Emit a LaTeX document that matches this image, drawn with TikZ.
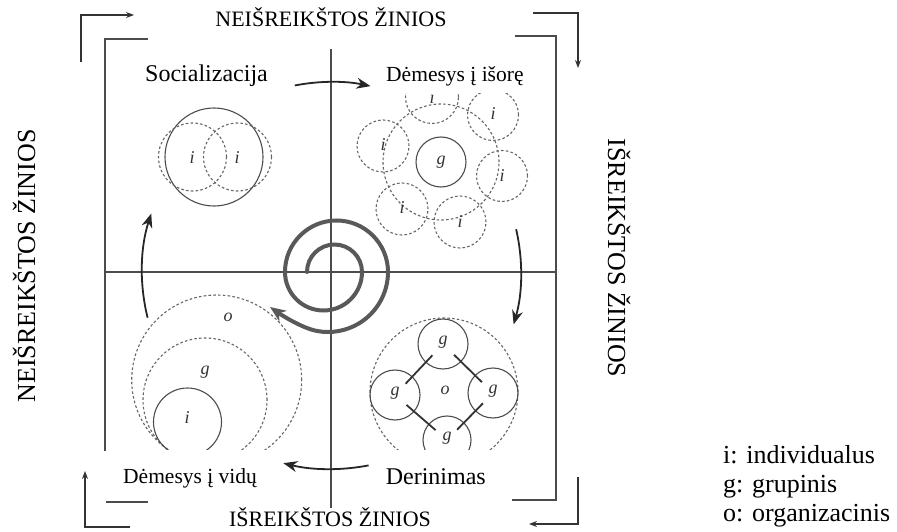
\documentclass[tikz,border=0pt]{standalone}
\usepackage{fontspec}
\setmainfont{Liberation Serif}
\usetikzlibrary{arrows.meta,calc}
\begin{document}
\begin{tikzpicture}[x=1pt,y=-1pt,
  frame/.style={line width=1.1pt,draw=black!70},
  corner/.style={line width=1.8pt,draw=black!80,-{Stealth[length=8pt,width=6pt]}},
  solidc/.style={circle,inner sep=0pt,line width=1.1pt,draw=black!70},
  dashc/.style={circle,inner sep=0pt,line width=1.1pt,draw=black!60,dash pattern=on 2.6pt off 2.2pt},
  cyc/.style={line width=1.8pt,draw=black!85,-{Stealth[length=14pt,width=11pt]}},
  spir/.style={line width=4pt,draw=black!65,line cap=round},
  link/.style={line width=1.8pt,draw=black!80},
  lbl/.style={font=\fontsize{18}{18}\selectfont\itshape,inner sep=0pt,text=black!80},
  cover/.style={fill=white,draw=none},
  big/.style={font=\fontsize{24}{24}\selectfont,inner sep=0pt},
  mid/.style={font=\fontsize{21.5}{21.5}\selectfont,inner sep=0pt},
  head/.style={font=\fontsize{22}{22}\selectfont,inner sep=0pt},
  side/.style={font=\fontsize{26}{26}\selectfont,inner sep=0pt},
  leg/.style={font=\fontsize{26}{26}\selectfont,inner sep=0pt,anchor=base west}
]
\useasboundingbox (0,0) rectangle (897,532);

% ---------- frame ----------
\coordinate (fa) at (105,451);
\coordinate (fb) at (105,39);
\coordinate (fc) at (148,39);
\coordinate (fd) at (515,36);
\coordinate (fe) at (556,36);
\coordinate (ff) at (556,500);
\coordinate (fg) at (512,500);
\coordinate (fh) at (106,502);
\coordinate (fi) at (148,502);
\coordinate (vtop) at (331,49);
\coordinate (vbot) at (331,508);
\coordinate (hl) at (105,272);
\coordinate (hr) at (556,272);
\draw[frame] (fa) -- (fb) -- (fc);
\draw[frame] (fd) -- (fe) -- (ff) -- (fg);
\draw[frame] (vtop) -- (vbot);
\draw[frame] (hl) -- (hr);

% ---------- corner arrows ----------
\coordinate (tl1) at (81,62);  \coordinate (tl2) at (81,15);  \coordinate (tl3) at (134,15);
\coordinate (tr1) at (533,13); \coordinate (tr2) at (578,13); \coordinate (tr3) at (578,68);
\coordinate (br1) at (578,477);\coordinate (br2) at (578,524);\coordinate (br3) at (529,524);
\coordinate (bl1) at (130,527);\coordinate (bl2) at (85,527); \coordinate (bl3) at (85,471);
\draw[corner] (tl1) -- (tl2) -- (tl3);
\draw[corner] (tr1) -- (tr2) -- (tr3);
\draw[corner] (br1) -- (br2) -- (br3);
\draw[corner] (bl1) -- (bl2) -- (bl3);

% ---------- top-left quadrant: socialization ----------
\node[solidc,minimum size=98pt] (s0) at (214,157) {};
\node[dashc,minimum size=68pt] (s1) at (192.5,157) {};
\node[dashc,minimum size=68pt] (s2) at (237.5,157) {};
\node[lbl] (s1l) at (192,158) {i};
\node[lbl] (s2l) at (237,158) {i};

% ---------- top-right quadrant: externalization ----------
\node[solidc,minimum size=50pt] (eg) at (441,162) {};
\node[dashc,minimum size=116pt] (ering) at (441,162) {};
\node[dashc,minimum size=53pt] (e1) at (432,97) {};
\node[dashc,minimum size=51pt] (e2) at (493,115) {};
\node[dashc,minimum size=51pt] (e3) at (502,176) {};
\node[dashc,minimum size=52pt] (e4) at (460,222) {};
\node[dashc,minimum size=52pt] (e5) at (402,209) {};
\node[dashc,minimum size=52pt] (e6) at (383,146) {};
\node[lbl] (egl) at (441,162) {g};
\node[lbl] (e1l) at (432,98) {i};
\node[lbl] (e2l) at (493,114) {i};
\node[lbl] (e3l) at (502,176) {i};
\node[lbl] (e4l) at (460,222) {i};
\node[lbl] (e5l) at (402,208) {i};
\node[lbl] (e6l) at (383,145) {i};

% ---------- bottom-left quadrant: internalization ----------
\node[dashc,minimum size=170pt] (io) at (216.7,380) {};
\node[dashc,minimum size=124pt] (ig) at (205,400) {};
\node[solidc,minimum size=68pt] (ii) at (187.5,422) {};
\node[lbl] (iol) at (228,317) {o};
\node[lbl] (igl) at (205,372) {g};
\node[lbl] (iil) at (187,418) {i};

% ---------- bottom-right quadrant: combination ----------
\node[dashc,minimum size=148pt] (co) at (444,392) {};
\node[solidc,minimum size=50pt] (cT) at (443,344) {};
\node[solidc,minimum size=50pt] (cL) at (395,395) {};
\node[solidc,minimum size=50pt] (cR) at (493,393) {};
\node[solidc,minimum size=48pt] (cB) at (447,440) {};
\node[lbl] (col) at (445,390) {o};
\node[lbl] (cTl) at (443,342) {g};
\node[lbl] (cLl) at (395,393) {g};
\node[lbl] (cRl) at (493,391) {g};
\node[lbl] (cBl) at (447,438) {g};
\draw[link] ($(cT)!0.22!(cL)$) -- ($(cT)!0.78!(cL)$);
\draw[link] ($(cT)!0.22!(cR)$) -- ($(cT)!0.78!(cR)$);
\draw[link] ($(cB)!0.22!(cL)$) -- ($(cB)!0.78!(cL)$);
\draw[link] ($(cB)!0.22!(cR)$) -- ($(cB)!0.78!(cR)$);

% ---------- white label patches ----------
\fill[cover] (342,44) rectangle (552,93);
\fill[cover] (107,450) rectangle (302,499);
\fill[cover] (338,450) rectangle (510,499);

% bottom-left frame piece (drawn after the patches)
\draw[frame] (fh) -- (fi);

% ---------- cycle arrows ----------
\coordinate (ctr) at (331,272);
\draw[cyc] ([shift={(ctr)}]259:190) arc[start angle=259,end angle=282,radius=190];
\draw[cyc] ([shift={(ctr)}]-13:190) arc[start angle=-13,end angle=16,radius=190];
\draw[cyc] ([shift={(ctr)}]79:197) arc[start angle=79,end angle=104,radius=197];
\draw[cyc] ([shift={(ctr)}]166:189) arc[start angle=166,end angle=198,radius=189];

% ---------- central spiral ----------
\coordinate (sp0) at (307,272);
\coordinate (sptip) at (270,307);
\draw[spir,-{Stealth[length=16pt,width=13pt]}] (sp0)
  arc[start angle=180,end angle=360,radius=27.5]
  arc[start angle=0,end angle=180,radius=38.5]
  arc[start angle=180,end angle=360,radius=51.5]
  arc[start angle=0,end angle=100,radius=60]
  .. controls +(-14.8,-2.6) and (282.3,315.6) .. (sptip);

% ---------- texts ----------
\node[head,anchor=base] (ttop) at (331,27) {NEIŠREIKŠTOS ŽINIOS};
\node[head,anchor=base] (tbot) at (330,526) {IŠREIKŠTOS ŽINIOS};
\node[side,rotate=90,anchor=base] (tleft) at (35,266) {NEIŠREIKŠTOS ŽINIOS};
\node[side,rotate=-90,anchor=base] (tright) at (608,258) {IŠREIKŠTOS ŽINIOS};
\node[big,anchor=base west] (soc) at (145,82) {Socializacija};
\node[mid,anchor=base west] (ext) at (386,82) {Dėmesys į išorę};
\node[mid,anchor=base west] (int) at (123,483) {Dėmesys į vidų};
\node[big,anchor=base east] (comb) at (486,484) {Derinimas};
\node[leg] (l1) at (723,463) {i: individualus};
\node[leg] (l2) at (723,492) {g: grupinis};
\node[leg] (l3) at (723,521) {o: organizacinis};
\end{tikzpicture}
\end{document}
